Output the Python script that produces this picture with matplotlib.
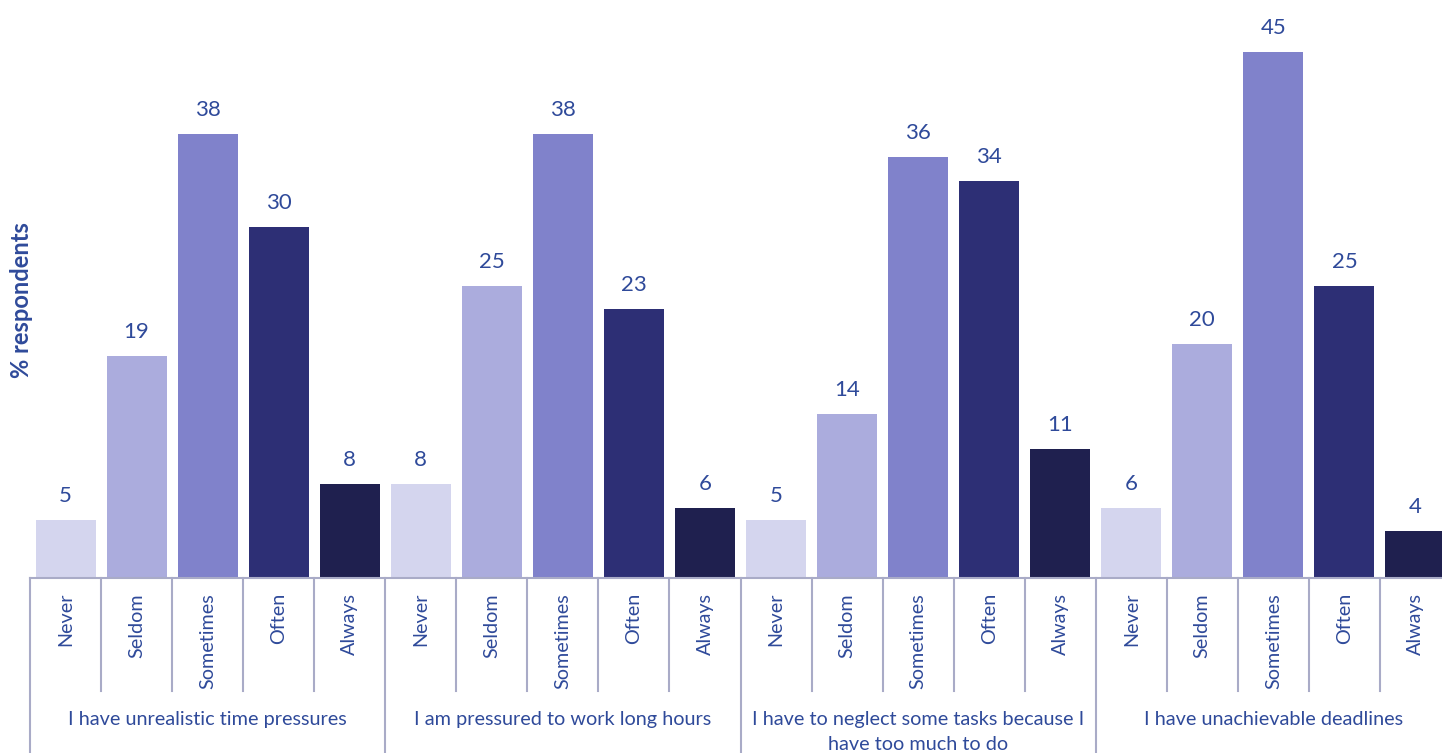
import matplotlib
matplotlib.use("Agg")
import matplotlib.pyplot as plt
import matplotlib.transforms as mtransforms

# Survey data: % of respondents per response, for each statement
statements = [
    "I have unrealistic time pressures",
    "I am pressured to work long hours",
    "I have to neglect some tasks because I\nhave too much to do",
    "I have unachievable deadlines",
]
responses = ["Never", "Seldom", "Sometimes", "Often", "Always"]
unrealistic_time = [5, 19, 38, 30, 8]
long_hours = [8, 25, 38, 23, 6]
neglect_tasks = [5, 14, 36, 34, 11]
unachievable_deadlines = [6, 20, 45, 25, 4]

series = [unrealistic_time, long_hours, neglect_tasks, unachievable_deadlines]
response_colors = ["#D4D5EE", "#ABACDD", "#8082CB", "#2D2F75", "#1F204F"]
text_color = "#2F4A9A"
line_color = "#A9ABC7"

plt.rcParams["font.family"] = ["Lato", "DejaVu Sans"]

W, H = 1442, 753
fig = plt.figure(figsize=(W / 100, H / 100), dpi=100)

# axes spans from x=30 px to past the right edge, baseline at y=578 px
left_px, right_px, base_px = 30, 1451, 578
ax = fig.add_axes([left_px / W, 1 - base_px / H, (right_px - left_px) / W, base_px / H])

px_per_unit = (578 - 52) / 45.0
ax.set_ylim(0, base_px / px_per_unit)
n = len(statements) * len(responses)
ax.set_xlim(-0.5, n - 0.5)

for g, vals in enumerate(series):
    for i, v in enumerate(vals):
        x = g * len(responses) + i
        ax.bar(x, v, width=0.845, color=response_colors[i], zorder=2)
        ax.annotate(f"{v}", xy=(x, v), xytext=(0, 13), textcoords="offset points",
                    ha="center", va="baseline", fontsize=16, color=text_color)

for s in ax.spines.values():
    s.set_visible(False)
ax.set_xticks([])
ax.set_yticks([])

# category axis drawn below the plot area
trans = mtransforms.blended_transform_factory(ax.transData, fig.transFigure)
def fy(py):
    return 1 - py / H

ax.plot([-0.5, n - 0.5], [fy(base_px), fy(base_px)], transform=trans,
        color=line_color, lw=1.5, clip_on=False, zorder=3)

for k in range(n + 1):
    xb = k - 0.5
    bottom = 753 if k % len(responses) == 0 else 691
    ax.plot([xb, xb], [fy(base_px), fy(bottom)], transform=trans,
            color=line_color, lw=1.5, clip_on=False, zorder=3)

for g, name in enumerate(statements):
    for i, r in enumerate(responses):
        x = g * len(responses) + i
        ax.text(x, fy(593), r, transform=trans, rotation=90, ha="center", va="top",
                fontsize=14.2, color=text_color)
    gx = g * len(responses) + (len(responses) - 1) / 2
    ax.text(gx, fy(711), name, transform=trans, ha="center", va="top",
            fontsize=14.3, color=text_color, linespacing=1.55, multialignment="center")

fig.text(22 / W, 1 - 300 / H, "% respondents", rotation=90, ha="center", va="center",
         fontsize=17, fontweight="bold", color=text_color)

fig.savefig("out.png", dpi=100)
